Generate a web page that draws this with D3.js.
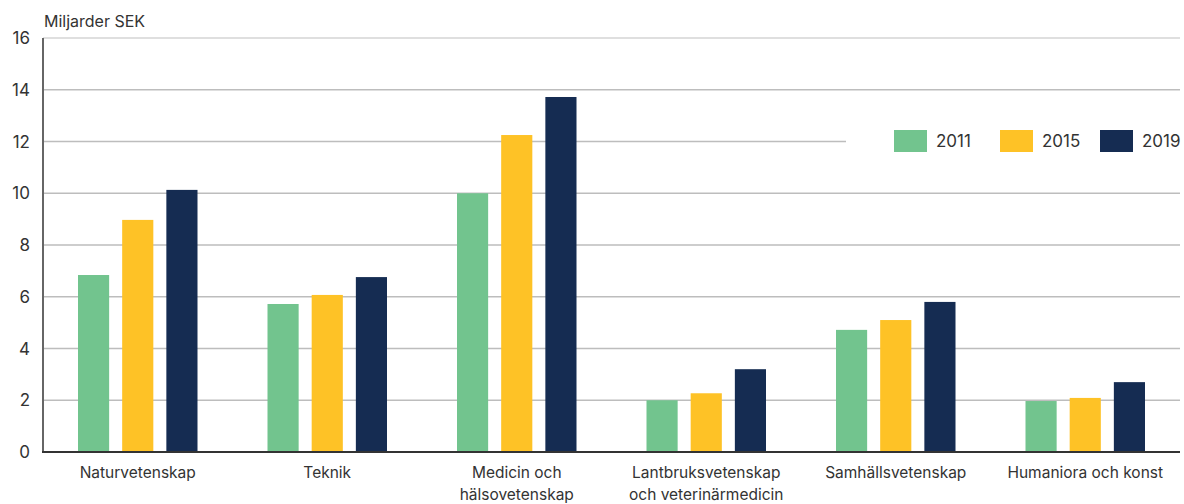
<!DOCTYPE html>
<html>
<head>
<meta charset="utf-8">
<script src="https://cdn.jsdelivr.net/npm/d3@7"></script>
<style>
  body { margin: 0; background: #fff; }
  svg text { font-family: Inter, "Noto Sans", sans-serif; fill: #333; }
</style>
</head>
<body>
<div id="chart"></div>
<script>
// data
const categories = ["Naturvetenskap", "Teknik", "Medicin och hälsovetenskap",
  "Lantbruksvetenskap och veterinärmedicin", "Samhällsvetenskap", "Humaniora och konst"];
const categoryLines = [["Naturvetenskap"], ["Teknik"], ["Medicin och", "hälsovetenskap"],
  ["Lantbruksvetenskap", "och veterinärmedicin"], ["Samhällsvetenskap"], ["Humaniora och konst"]];
const years = ["2011", "2015", "2019"];
const values2011 = [6.84, 5.72, 10.0, 2.0, 4.72, 1.97];
const values2015 = [8.97, 6.07, 12.25, 2.27, 5.1, 2.09];
const values2019 = [10.13, 6.76, 13.72, 3.2, 5.8, 2.7];
const yTicks = [0, 2, 4, 6, 8, 10, 12, 14, 16];
const colors = ["#72c48e", "#fec226", "#152c52"];

const series = [values2011, values2015, values2019];

const width = 1184, height = 504;
const margin = { top: 38, right: 4, bottom: 52, left: 43 };

const svg = d3.select("#chart").append("svg")
  .attr("width", width)
  .attr("height", height);

const x0 = d3.scaleBand()
  .domain(categories)
  .range([margin.left, width - margin.right])
  .padding(0);

const x1 = d3.scaleBand()
  .domain(years)
  .range([35, x0.bandwidth() - 35])
  .paddingInner(0.295)
  .paddingOuter(0);

const y = d3.scaleLinear()
  .domain([0, 16])
  .range([height - margin.bottom, margin.top]);

// gridlines
svg.append("g")
  .selectAll("line")
  .data(yTicks.filter(d => d > 0))
  .enter().append("line")
  .attr("x1", margin.left)
  .attr("x2", width - margin.right)
  .attr("y1", d => y(d))
  .attr("y2", d => y(d))
  .attr("stroke", d => d === 16 ? "#d4d4d4" : "#bdbdbd")
  .attr("stroke-width", 1.5);

// y tick labels
svg.append("g")
  .selectAll("text")
  .data(yTicks)
  .enter().append("text")
  .attr("x", 30)
  .attr("y", d => y(d))
  .attr("dy", "0.36em")
  .attr("text-anchor", "end")
  .style("font-size", "17px")
  .text(d => d);

svg.append("text")
  .attr("x", 44)
  .attr("y", 27)
  .style("font-size", "16px")
  .text("Miljarder SEK");

// legend background hides part of the gridline
const legend = svg.append("g");
legend.append("rect")
  .attr("x", 846).attr("y", 122)
  .attr("width", width - 846).attr("height", 38)
  .attr("fill", "#fff");

const legendX = [894, 1000, 1100];
years.forEach((yr, i) => {
  legend.append("rect")
    .attr("x", legendX[i]).attr("y", 130)
    .attr("width", 33).attr("height", 22)
    .attr("fill", colors[i]);
  legend.append("text")
    .attr("x", legendX[i] + 42).attr("y", 147)
    .style("font-size", "17px")
    .text(yr);
});

// bars
const groups = svg.append("g")
  .selectAll("g")
  .data(categories)
  .enter().append("g")
  .attr("transform", d => `translate(${x0(d)},0)`);

groups.selectAll("rect")
  .data((d, ci) => years.map((yr, si) => ({ yr, v: series[si][ci], c: colors[si] })))
  .enter().append("rect")
  .attr("x", d => x1(d.yr))
  .attr("width", x1.bandwidth())
  .attr("y", d => y(d.v))
  .attr("height", d => y(0) - y(d.v))
  .attr("fill", d => d.c);

// axes lines
svg.append("line")
  .attr("x1", margin.left).attr("x2", margin.left)
  .attr("y1", margin.top).attr("y2", y(0))
  .attr("stroke", "#666").attr("stroke-width", 2);

svg.append("line")
  .attr("x1", margin.left - 1).attr("x2", width - margin.right)
  .attr("y1", y(0)).attr("y2", y(0))
  .attr("stroke", "#333").attr("stroke-width", 2);

// category labels
const labels = svg.append("g")
  .selectAll("text")
  .data(categories)
  .enter().append("text")
  .attr("x", d => x0(d) + x0.bandwidth() / 2)
  .attr("y", 478)
  .attr("text-anchor", "middle")
  .style("font-size", "15.5px");

labels.each(function(d, i) {
  categoryLines[i].forEach((line, j) => {
    d3.select(this).append("tspan")
      .attr("x", x0(d) + x0.bandwidth() / 2)
      .attr("dy", j === 0 ? 0 : 22)
      .text(line);
  });
});
</script>
</body>
</html>
